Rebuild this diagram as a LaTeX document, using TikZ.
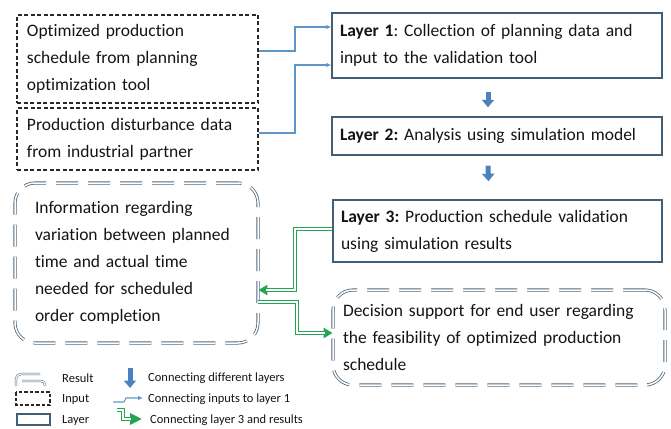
\documentclass[tikz,border=0pt]{standalone}
\usepackage{fontspec}
\setmainfont{Carlito}[Ligatures=CommonOff]
\usetikzlibrary{arrows.meta,calc}
\definecolor{layerc}{RGB}{65,95,120}
\definecolor{inc}{RGB}{40,40,40}
\definecolor{resc}{RGB}{80,105,125}
\definecolor{bluearr}{RGB}{75,130,190}
\definecolor{bluecon}{RGB}{95,150,200}
\definecolor{greenc}{RGB}{35,165,85}
\definecolor{txtc}{RGB}{20,20,20}
\begin{document}
\frenchspacing
\begin{tikzpicture}[x=1pt,y=-1pt,
  txt/.style={font=\fontsize{17.5}{27}\selectfont\frenchspacing, text=txtc, align=left},
  layerbox/.style={txt, draw=layerc, line width=1.4pt, inner xsep=8pt, inner ysep=0pt},
  inbox/.style={txt, draw=inc, line width=1.3pt, dash pattern=on 4pt off 2.5pt, inner xsep=10pt, inner ysep=0pt},
  resbox/.style={txt, draw=resc, line width=0.8pt, double=white, double distance=1.5pt, rounded corners=20pt, dash pattern=on 22pt off 10pt, inner ysep=0pt},
  inarr/.style={draw=bluecon, line width=1.1pt, -{Latex[length=5pt,width=4.5pt]}},
  downarr/.style={draw=bluearr, line width=5pt, -{Triangle[length=7.5pt,width=12pt]}},
  greenarr/.style={draw=greenc, line width=3.6pt, -{Triangle[length=9pt,width=10pt]},
    postaction={draw=white, line width=1.4pt, arrows=-, shorten >=8pt}},
  greenleg/.style={draw=greenc, line width=3.2pt, -{Triangle[length=12pt,width=11pt]},
    postaction={draw=white, line width=1.2pt, arrows=-, shorten >=11pt}},
  legtxt/.style={font=\fontsize{12.5}{15}\selectfont, text=txtc, anchor=west, inner sep=0pt}
]
\useasboundingbox (0,0) rectangle (671,428);

% input boxes
\node[inbox, minimum width=241pt, minimum height=88pt, text width=221pt] (in1) at (137.5,59)
  {Optimized production\\schedule from planning\\optimization tool};
\node[inbox, minimum width=241pt, minimum height=62pt, text width=221pt] (in2) at (137.5,139)
  {Production disturbance data\\from industrial partner};

% layer boxes
\node[layerbox, minimum width=330pt, minimum height=65pt, text width=314pt] (L1) at (497,45.5)
  {\textbf{Layer 1}: Collection of planning data and\\input to the validation tool};
\node[layerbox, minimum width=330pt, minimum height=38pt, text width=314pt] (L2) at (497,136)
  {\textbf{Layer 2:} Analysis using simulation model};
\node[layerbox, minimum width=329pt, minimum height=62pt, text width=313pt] (L3) at (497.5,231)
  {\textbf{Layer 3:} Production schedule validation\\using simulation results};

% result boxes
\node[resbox, inner xsep=20pt, minimum width=243pt, minimum height=160pt, text width=203pt] (R1) at (136.5,263)
  {Information regarding\\variation between planned\\time and actual time\\needed for scheduled\\order completion};
\node[resbox, inner xsep=10pt, minimum width=332pt, minimum height=95pt, text width=312pt] (R2) at (499,337.5)
  {Decision support for end user regarding\\the feasibility of optimized production\\schedule};

% input connectors
\coordinate (bx) at (295,0);
\draw[inarr] ([yshift=8pt]in1.east) -- ([yshift=8pt]in1.east -| bx) |- ([yshift=18.5pt]L1.west);
\draw[inarr] ([yshift=6pt]in2.east) -- ([yshift=6pt]in2.east -| bx) |- ([yshift=-19.5pt]L1.west);

% layer arrows
\draw[downarr] ([xshift=-9pt,yshift=-13pt]L1.south) -- ([xshift=-9pt,yshift=9pt]L2.north);
\draw[downarr] ([xshift=-9pt,yshift=-10pt]L2.south) -- ([xshift=-9pt,yshift=18pt]L3.north);

% green connectors
\coordinate (gx1) at (295,0);
\coordinate (gx2) at (297,0);
\draw[greenarr] ([yshift=2pt]L3.west) -- ([yshift=2pt]L3.west -| gx1) |- ([yshift=-27pt]R1.east);
\draw[greenarr] ([yshift=-39pt]R1.east) -- ([yshift=-39pt]R1.east -| gx2) |- ([yshift=4.5pt]R2.west);

% legend icons
\draw[resc, line width=0.5pt, double=white, double distance=1.2pt, rounded corners=5pt] (16,386) -- (16,374) -- (40,374);
\draw[resc, line width=0.5pt, double=white, double distance=1.2pt, rounded corners=4pt] (22,381) -- (45,381) -- (45,386);
\draw[inc, line width=1.2pt, dash pattern=on 3.5pt off 2pt] (16,392) rectangle (50,405);
\draw[layerc, line width=1.3pt] (17,414) rectangle (50,425);
\draw[downarr] (130,368) -- (130,388);
\draw[inarr] (113,402) -- (124,402) -- (126,398) -- (143,398);
\draw[greenleg] (117,410) -- (123,410) -- (123,419) -- (142,419);

% legend texts
\node[legtxt] (lr) at (62,378) {Result};
\node[legtxt] (li) at (62,399) {Input};
\node[legtxt] (ll) at (62,420) {Layer};
\node[legtxt] (lc1) at (148,378) {Connecting different layers};
\node[legtxt] (lc2) at (148,399) {Connecting inputs to layer 1};
\node[legtxt] (lc3) at (150,420) {Connecting layer 3 and results};
\end{tikzpicture}
\end{document}
